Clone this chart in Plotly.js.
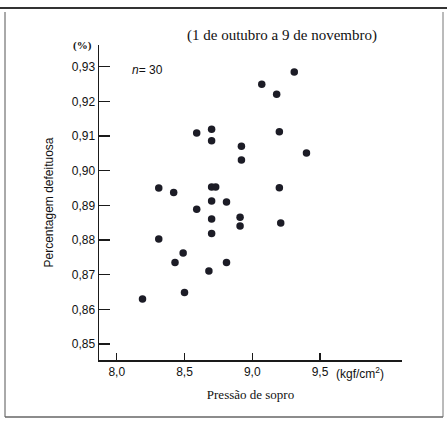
<!DOCTYPE html>
<html>
<head>
<meta charset="utf-8">
<script src="https://cdn.plot.ly/plotly-3.0.1.min.js"></script>
<style>
html,body{margin:0;padding:0;background:#fff;}
#chart{width:447px;height:425px;}
</style>
</head>
<body>
<div id="chart"></div>
<script>
// Pressão de sopro (kgf/cm²)
const pressao = [9.31, 9.07, 9.18, 9.20, 9.40, 9.20, 9.21, 8.59, 8.70, 8.70,
                 8.92, 8.92, 8.70, 8.73, 8.31, 8.42, 8.70, 8.81, 8.59, 8.70,
                 8.91, 8.91, 8.70, 8.31, 8.49, 8.43, 8.81, 8.68, 8.50, 8.19];
// Percentagem defeituosa (%)
const defeituosa = [0.9285, 0.9250, 0.9221, 0.9113, 0.9051, 0.8951, 0.8849, 0.9109, 0.9120, 0.9087,
                    0.9071, 0.9031, 0.8953, 0.8953, 0.8950, 0.8937, 0.8913, 0.8910, 0.8889, 0.8861,
                    0.8866, 0.8841, 0.8819, 0.8803, 0.8763, 0.8735, 0.8735, 0.8711, 0.8649, 0.8630];

const xTickVals = [8.0, 8.5, 9.0, 9.5];
const xTickText = ['8,0', '8,5', '9,0', '9,5'];
const yTickVals = [0.85, 0.86, 0.87, 0.88, 0.89, 0.90, 0.91, 0.92, 0.93];
const yTickText = ['0,85', '0,86', '0,87', '0,88', '0,89', '0,90', '0,91', '0,92', '0,93'];

const L = 99, T = 45, W = 303, H = 315;
const px = v => (v - L) / W;
const py = v => (T + H - v) / H;

const trace = {
  x: pressao, y: defeituosa, type: 'scatter', mode: 'markers',
  marker: {size: 7.5, color: '#1c1c26'},
  hoverinfo: 'x+y'
};

const axisCommon = {
  showline: true, linecolor: '#1a1a1a', linewidth: 1.5,
  ticks: 'inside', tickcolor: '#1a1a1a', tickwidth: 1.3,
  showgrid: false, zeroline: false, mirror: false,
  tickfont: {family: 'Liberation Sans, Arial, sans-serif', size: 12, color: '#111'}
};

const layout = {
  width: 447, height: 425,
  margin: {l: L, r: 447 - L - W, t: T, b: 425 - T - H, pad: 0},
  paper_bgcolor: '#fff', plot_bgcolor: '#fff',
  showlegend: false,
  title: {
    text: '(1 de outubro a 9 de novembro)',
    font: {family: 'Liberation Serif, Times New Roman, serif', size: 15, color: '#111'},
    x: 282 / 447, xanchor: 'center', y: 1 - 35 / 425, yanchor: 'middle'
  },
  xaxis: Object.assign({}, axisCommon, {
    range: [7.869, 10.105], tickvals: xTickVals, ticktext: xTickText, ticklen: 7,
    title: {text: 'Pressão de sopro', standoff: 12,
      font: {family: 'Liberation Serif, Times New Roman, serif', size: 13, color: '#111'}}
  }),
  yaxis: Object.assign({}, axisCommon, {
    range: [0.8454, 0.9363], tickvals: yTickVals, ticktext: yTickText, ticklen: 11,
    title: {text: 'Percentagem defeituosa', standoff: 15,
      font: {family: 'Liberation Sans, Arial, sans-serif', size: 12, color: '#111'}}
  }),
  annotations: [
    {xref: 'paper', yref: 'paper', x: px(82), y: py(45), text: '<b>(%)</b>', showarrow: false,
     xanchor: 'center', yanchor: 'middle',
     font: {family: 'Liberation Serif, Times New Roman, serif', size: 11, color: '#111'}},
    {xref: 'paper', yref: 'paper', x: px(130), y: py(70), text: '<i>n</i>= 30', showarrow: false,
     xanchor: 'left', yanchor: 'middle',
     font: {family: 'Liberation Sans, Arial, sans-serif', size: 12, color: '#111'}},
    {xref: 'paper', yref: 'paper', x: px(334), y: py(373), text: '(kgf/cm<sup>2</sup>)', showarrow: false,
     xanchor: 'left', yanchor: 'middle',
     font: {family: 'Liberation Sans, Arial, sans-serif', size: 12, color: '#111'}}
  ],
  shapes: [
    {type: 'line', xref: 'paper', yref: 'paper', x0: px(0), x1: px(447), y0: py(8), y1: py(8),
     line: {color: '#333', width: 2.2}},
    {type: 'line', xref: 'paper', yref: 'paper', x0: px(5), x1: px(5), y0: py(12), y1: py(417),
     line: {color: '#555', width: 1}},
    {type: 'line', xref: 'paper', yref: 'paper', x0: px(443), x1: px(443), y0: py(12), y1: py(417),
     line: {color: '#777', width: 1}},
    {type: 'line', xref: 'paper', yref: 'paper', x0: px(5), x1: px(443), y0: py(417), y1: py(417),
     line: {color: '#666', width: 1.3}}
  ]
};

Plotly.newPlot('chart', [trace], layout, {staticPlot: true, displayModeBar: false});
</script>
</body>
</html>
